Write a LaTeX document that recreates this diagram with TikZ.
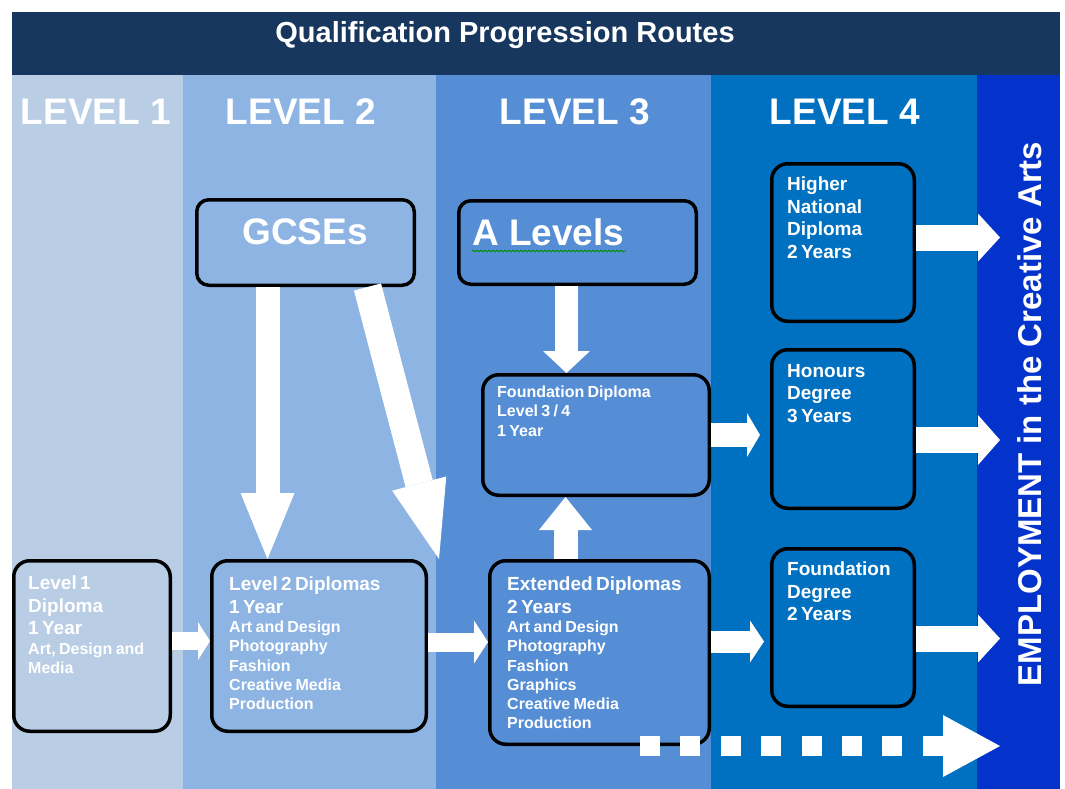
\documentclass[tikz,border=0pt]{standalone}
\usepackage{fontspec}
\setmainfont{Liberation Sans}
\usetikzlibrary{arrows.meta,positioning,decorations.pathmorphing}

\definecolor{hdrblue}{HTML}{17375E}
\definecolor{lvone}{HTML}{B9CDE5}
\definecolor{lvtwo}{HTML}{8EB4E3}
\definecolor{lvthree}{HTML}{558ED5}
\definecolor{lvfour}{HTML}{0070C0}
\definecolor{empblue}{HTML}{0433CC}

\tikzset{
  qbox/.style={draw=black, line width=3.5pt, rounded corners=16pt, anchor=north west, inner sep=0pt},
  qtxt/.style={text=white, font=\bfseries, anchor=north west, inner sep=0pt, align=left},
  lvtxt/.style={text=white, font=\bfseries\fontsize{37}{44}\selectfont, inner sep=0pt},
  blockarrow/.style n args={3}{draw=white, line width=#1, -{Triangle[width=#2, length=#3, line width=0pt]}}
}

\newcommand{\bigline}{\fontsize{19}{22.5}\selectfont}
\newcommand{\smallline}{\fontsize{16}{19.2}\selectfont}

\begin{document}
\begin{tikzpicture}[x=1pt, y=-1pt]

  \useasboundingbox (0,0) rectangle (1065,789);
  \fill[white] (0,0) rectangle (1065,789);

  % header and level columns
  \fill[hdrblue] (12,12) rectangle (1060,75);
  \fill[lvone]   (12,75)  rectangle (183,789);
  \fill[lvtwo]   (183,75) rectangle (436,789);
  \fill[lvthree] (436,75) rectangle (711,789);
  \fill[lvfour]  (711,75) rectangle (977,789);
  \fill[empblue] (977,75) rectangle (1060,789);

  \node[text=white, font=\bfseries\fontsize{29}{34}\selectfont] (title) at (505,35) {Qualification Progression Routes};

  \node[lvtxt] (lvonetxt)   at (96,112)  {LEVEL 1};
  \node[lvtxt] (lvtwotxt)   at (301,112) {LEVEL 2};
  \node[lvtxt] (lvthreetxt) at (575,112) {LEVEL 3};
  \node[lvtxt] (lvfourtxt)  at (845,112) {LEVEL 4};

  \node[rotate=90, text=white, font=\bfseries\fontsize{33}{40}\selectfont] (emptxt) at (1030,414) {EMPLOYMENT in the Creative Arts};

  % boxes
  \node[qbox, rounded corners=12pt, minimum width=217.5, minimum height=85.5] (gcse) at (195,198) {};
  \node[qbox, rounded corners=12pt, minimum width=237.5, minimum height=83.5] (alev) at (457,199) {};
  \node[qbox, minimum width=226.5, minimum height=120.5] (fdip) at (481,373) {};
  \node[qbox, minimum width=156.5, minimum height=170.5] (lone) at (12,559) {};
  \node[qbox, minimum width=214.5, minimum height=170.5] (ltwo) at (210,559) {};
  \node[qbox, minimum width=219.5, minimum height=183.5] (ext)  at (488,559) {};
  \node[qbox, minimum width=142.5, minimum height=157.5] (hnd)  at (770,162) {};
  \node[qbox, minimum width=142.5, minimum height=158.5] (hons) at (770,348) {};
  \node[qbox, minimum width=142.5, minimum height=157.5] (fdeg) at (770,547) {};

  \node[lvtxt] (gcsetxt) at (305,232) {GCSEs};
  \node[lvtxt, anchor=west] (alevtxt) at (472,232) {A Levels};
  \draw[green!55!black, line width=0.8pt, decorate, decoration={snake, amplitude=0.9pt, segment length=4pt}] (472,251) -- (626,251);

  \node[qtxt, text width=200] (fdiptxt) at (497,386) {\smallline Foundation Diploma\\Level 3 / 4\\1 Year\par};
  \node[qtxt, text width=140] (lonetxt) at (28,576) {{\bigline Level 1\\Diploma\\1 Year\par}{\smallline Art, Design and\\Media\par}};
  \node[qtxt, text width=190] (ltwotxt) at (229,577) {{\bigline Level 2 Diplomas\\1 Year\par}{\smallline Art and Design\\Photography\\Fashion\\Creative Media\\Production\par}};
  \node[qtxt, text width=200] (exttxt) at (507,577) {{\bigline Extended Diplomas\\2 Years\par}{\smallline Art and Design\\Photography\\Fashion\\Graphics\\Creative Media\\Production\par}};
  \node[qtxt, text width=125] (hndtxt)  at (787,177) {\bigline Higher\\National\\Diploma\\2 Years\par};
  \node[qtxt, text width=125] (honstxt) at (787,364) {\bigline Honours\\Degree\\3 Years\par};
  \node[qtxt, text width=125] (fdegtxt) at (787,562) {\bigline Foundation\\Degree\\2 Years\par};

  % routes
  \coordinate (empx) at (1000,0);
  \coordinate (dotstart) at (640,746);
  \coordinate (dotend) at (1000,746);

  \draw[blockarrow={24pt}{54pt}{66pt}] ([xshift=-38pt]gcse.south) -- ([xshift=-38pt]gcse.south |- ltwo.north);
  \draw[blockarrow={28pt}{56pt}{78pt}] ([xshift=62pt]gcse.south) -- ([xshift=11pt]ltwo.north east);
  \draw[blockarrow={23pt}{47pt}{22pt}] ([xshift=-11pt]alev.south) -- ([xshift=-11pt]alev.south |- fdip.north);
  \draw[blockarrow={24pt}{53pt}{33pt}] ([xshift=-34pt]ext.north) -- ([xshift=-34pt]ext.north |- fdip.south);

  \draw[blockarrow={18pt}{38pt}{12pt}] ([yshift=5pt]lone.east) -- ([yshift=5pt]lone.east -| ltwo.west);
  \draw[blockarrow={19pt}{43pt}{14pt}] ([yshift=4pt]ltwo.east) -- ([yshift=4pt]ltwo.east -| ext.west);
  \draw[blockarrow={24pt}{44pt}{13pt}] (fdip.east) -- ([xshift=-10pt]fdip.east -| hons.west);
  \draw[blockarrow={22pt}{42pt}{14pt}] ([yshift=11pt]ext.east) -- ([yshift=11pt,xshift=-6pt]ext.east -| fdeg.west);

  \draw[blockarrow={26pt}{48pt}{22pt}] ([yshift=5pt]hnd.east) -- ([yshift=5pt]hnd.east -| empx);
  \draw[blockarrow={26pt}{50pt}{22pt}] ([yshift=-11pt]hons.east) -- ([yshift=-11pt]hons.east -| empx);
  \draw[blockarrow={26pt}{48pt}{22pt}] ([yshift=-11pt]fdeg.east) -- ([yshift=-11pt]fdeg.east -| empx);

  \draw[blockarrow={20pt}{62pt}{57pt}, dash pattern=on 20pt off 20.4pt] (dotstart) -- (dotend);
\end{tikzpicture}
\end{document}
